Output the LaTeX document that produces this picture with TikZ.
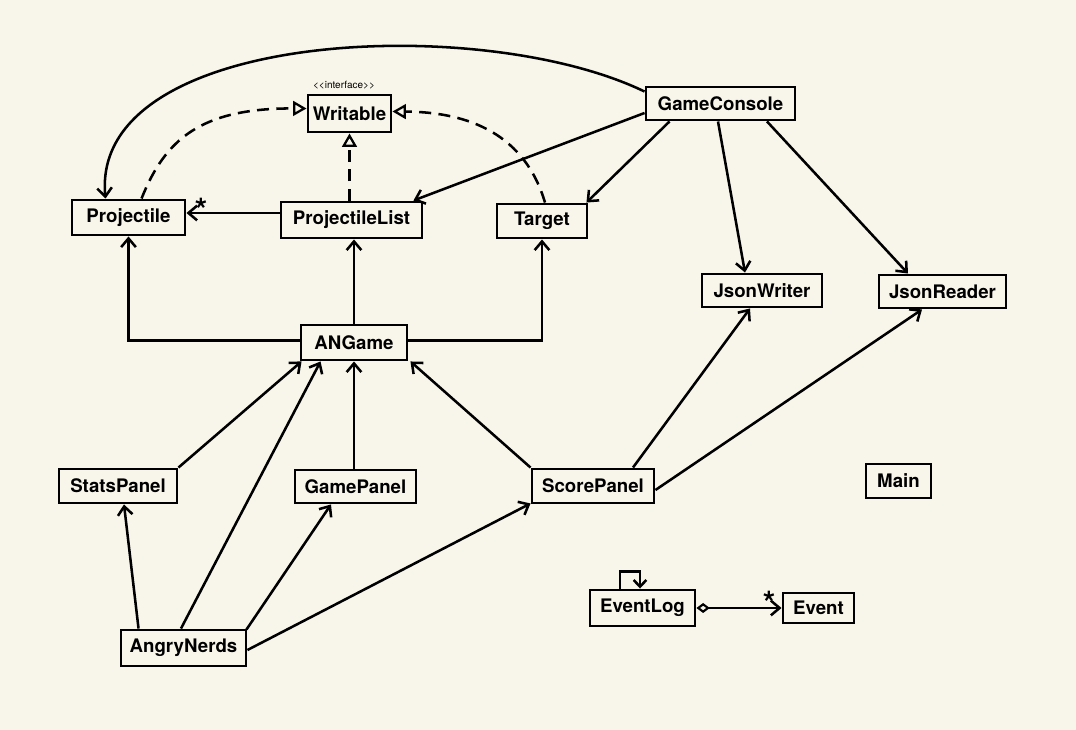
\documentclass[tikz,border=0pt]{standalone}
\usepackage{fontspec}
\setmainfont{TeX Gyre Heros}
\usetikzlibrary{arrows.meta,calc}
\definecolor{bg}{HTML}{F8F6EA}
\tikzset{
  cls/.style={draw=black, line width=2.2pt, fill=bg, inner sep=0pt,
    font=\fontsize{14}{16}\selectfont\bfseries},
  arr/.style={line width=1.9pt, -{Straight Barb[length=6.5pt,width=11pt,line width=1.9pt]}},
  real/.style={line width=1.9pt, dash pattern=on 9pt off 5.5pt,
    -{Triangle[open,length=10pt,width=11pt,line width=1.7pt]}},
  agg/.style={line width=1.9pt, {Diamond[open,length=10pt,width=7.5pt,line width=1.6pt]}-{Straight Barb[length=6.5pt,width=11pt,line width=1.9pt]}},
  mult/.style={font=\fontsize{24}{24}\selectfont\bfseries, inner sep=0pt},
  stereo/.style={font=\fontsize{7.5}{9}\selectfont, inner sep=0pt}
}
\begin{document}
\begin{tikzpicture}[x=0.75pt,y=-0.75pt]
\useasboundingbox[fill=bg] (0,0) rectangle (1076,730);

% classes
\node[cls, minimum width=62.25pt, minimum height=27.75pt] (Writable) at (349.5,113.5) {Writable};
\node[stereo] (iface) at (344,85) {<{}<interface>{}>};
\node[cls, minimum width=111.75pt, minimum height=24.75pt] (GameConsole) at (720.5,103.5) {GameConsole};
\node[cls, minimum width=84.75pt, minimum height=26.25pt] (Projectile) at (128.5,217.5) {Projectile};
\node[cls, minimum width=105.75pt, minimum height=27pt] (ProjectileList) at (351.5,220) {ProjectileList};
\node[cls, minimum width=67.5pt, minimum height=25.5pt] (Target) at (542,221) {Target};
\node[cls, minimum width=90pt, minimum height=24.75pt] (JsonWriter) at (762,290.5) {JsonWriter};
\node[cls, minimum width=95.25pt, minimum height=24.75pt] (JsonReader) at (942.5,291.5) {JsonReader};
\node[cls, minimum width=79.5pt, minimum height=26.25pt] (ANGame) at (354,342.5) {ANGame};
\node[cls, minimum width=88.5pt, minimum height=25.5pt] (StatsPanel) at (118,486) {StatsPanel};
\node[cls, minimum width=90.75pt, minimum height=24.75pt] (GamePanel) at (355.5,486.5) {GamePanel};
\node[cls, minimum width=91.5pt, minimum height=25.5pt] (ScorePanel) at (593,486) {ScorePanel};
\node[cls, minimum width=48.75pt, minimum height=25.5pt] (Main) at (898.5,481) {Main};
\node[cls, minimum width=78.75pt, minimum height=27pt] (EventLog) at (642.5,608) {EventLog};
\node[cls, minimum width=53.25pt, minimum height=22.5pt] (Event) at (818.5,608) {Event};
\node[cls, minimum width=93.75pt, minimum height=27pt] (AngryNerds) at (183.5,648) {AngryNerds};

% GameConsole associations
\draw[arr] ($(GameConsole.north west)+(0,6)$) .. controls (480,12) and (90,30) .. ($(Projectile.north west)+(35,0)$);
\draw[arr] ($(GameConsole.west)+(0,9.5)$) -- ($(ProjectileList.north east)+(-10,0)$);
\draw[arr] ($(GameConsole.south west)+(25,0)$) -- ($(Target.north east)+(-2,0)$);
\draw[arr] ($(GameConsole.south)+(-2.5,0)$) -- ($(JsonWriter.north)+(-17,0)$);
\draw[arr] ($(GameConsole.south)+(46.5,0)$) -- ($(JsonReader.north)+(-34.5,0)$);

% realizations of Writable
\draw[real] ($(Projectile.north west)+(71,0)$) .. controls (165,140) and (200,108) .. ($(Writable.west)+(0,-5)$);
\draw[real] ($(Target.north)+(3,0)$) .. controls (525,135) and (470,112) .. ($(Writable.east)+(0,-2)$);
\draw[real] ($(ProjectileList.north)+(-2,0)$) -- ($(Writable.south)+(0,0)$);

% ProjectileList -> Projectile (*)
\draw[arr] ($(ProjectileList.west)+(0,-7)$) -- ($(Projectile.east)+(0,-4.5)$);
\node[mult] (m1) at (201,210) {*};

% ANGame associations
\draw[arr] ($(ANGame.west)+(0,-2)$) -| (Projectile.south);
\draw[arr] (ANGame.north) -- (ANGame.north |- ProjectileList.south);
\draw[arr] ($(ANGame.east)+(0,-2)$) -| (Target.south);

% panels -> ANGame
\draw[arr] (StatsPanel.north east) -- ($(ANGame.south west)+(2,0)$);
\draw[arr] ($(AngryNerds.north)+(-2.5,0)$) -- ($(ANGame.south west)+(21,0)$);
\draw[arr] (GamePanel.north -| ANGame.south) -- (ANGame.south);
\draw[arr] (ScorePanel.north west) -- ($(ANGame.south east)+(2,0)$);

% AngryNerds -> panels
\draw[arr] ($(AngryNerds.north west)+(19,0)$) -- ($(StatsPanel.south)+(6,0)$);
\draw[arr] ($(AngryNerds.north east)+(-1,1)$) -- ($(GamePanel.south)+(-24.5,0)$);
\draw[arr] ($(AngryNerds.east)+(0,2)$) -- ($(ScorePanel.south west)+(0,-1)$);

% ScorePanel -> Json
\draw[arr] ($(ScorePanel.north)+(40,0)$) -- ($(JsonWriter.south)+(-12,0)$);
\draw[arr] ($(ScorePanel.east)+(0,4)$) -- ($(JsonReader.south)+(-20.5,0)$);

% EventLog
\draw[line width=1.9pt, -{Straight Barb[length=5pt,width=9.5pt,line width=1.9pt]}] ($(EventLog.north)+(-22.5,0)$) -- ++(0,-17) -| ($(EventLog.north)+(-2.5,0)$);
\draw[agg] (EventLog.east) -- (Event.west);
\node[mult] (m2) at (769,603) {*};
\end{tikzpicture}
\end{document}
